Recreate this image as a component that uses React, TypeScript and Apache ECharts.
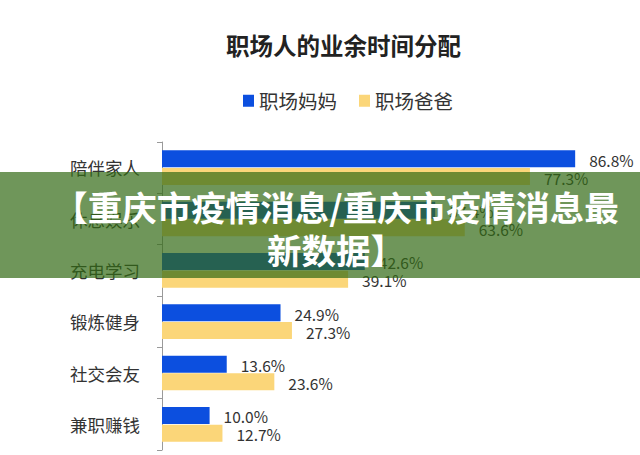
import React, { useEffect, useRef } from 'react';
import * as echarts from 'echarts';

const categories = ['陪伴家人', '休息娱乐', '充电学习', '锻炼健身', '社交会友', '兼职赚钱'];
const seriesNames = ['职场妈妈', '职场爸爸'];
const momValues = [86.8, 57.4, 42.6, 24.9, 13.6, 10.0];
const dadValues = [77.3, 63.6, 39.1, 27.3, 23.6, 12.7];
const bannerLines = ['【重庆市疫情消息/重庆市疫情消息最', '新数据】'];

const FONT = '"Noto Sans CJK SC", "Noto Sans", sans-serif';

const App: React.FC = () => {
  const chartRef = useRef<HTMLDivElement>(null);

  useEffect(() => {
    if (!chartRef.current) return;
    const chart = echarts.init(chartRef.current, undefined, { renderer: 'svg' });
    const label = {
      show: true,
      position: 'right',
      distance: 14,
      offset: [0, 1],
      formatter: (p: any) => `${Number(p.value).toFixed(1)}%`,
      color: '#333',
      fontSize: 15.5,
      fontFamily: FONT,
    };
    const bannerText = (text: string, y: number) => ({
      type: 'text',
      z: 101,
      x: 336,
      y,
      style: {
        text,
        fill: '#ffffff',
        fontSize: 34.5,
        fontWeight: 'bold',
        fontFamily: FONT,
        align: 'center',
        verticalAlign: 'middle',
      },
    });
    chart.setOption({
      animation: false,
      backgroundColor: '#ffffff',
      textStyle: { fontFamily: FONT },
      title: {
        text: '职场人的业余时间分配',
        left: 221,
        top: 28,
        textStyle: { fontSize: 23.5, fontWeight: 'bold', color: '#222', fontFamily: FONT },
      },
      legend: {
        data: seriesNames,
        left: 238,
        top: 86,
        icon: 'rect',
        itemWidth: 11,
        itemHeight: 12,
        itemGap: 22,
        textStyle: { fontSize: 19.5, color: '#333', fontFamily: FONT },
      },
      grid: { left: 162, top: 142, bottom: 5, right: 2, containLabel: false },
      xAxis: {
        type: 'value',
        min: 0,
        max: 100,
        show: false,
        splitLine: { show: false },
      },
      yAxis: {
        type: 'category',
        data: categories,
        inverse: true,
        axisLine: { lineStyle: { color: '#9a9a9a' } },
        axisTick: { show: true, length: 5, lineStyle: { color: '#9a9a9a' } },
        axisLabel: { margin: 22, fontSize: 17.5, color: '#333', fontFamily: FONT },
      },
      series: [
        {
          name: seriesNames[0],
          type: 'bar',
          data: momValues,
          barWidth: 17,
          barGap: '4%',
          itemStyle: { color: '#0c4fdf' },
          label,
        },
        {
          name: seriesNames[1],
          type: 'bar',
          data: dadValues,
          barWidth: 17,
          itemStyle: { color: '#fbd679' },
          label,
        },
      ],
      graphic: [
        {
          type: 'rect',
          z: 100,
          shape: { x: 0, y: 172, width: 640, height: 106 },
          style: { fill: 'rgba(50,105,20,0.7)' },
        },
        bannerText(bannerLines[0], 206),
        bannerText(bannerLines[1], 249),
      ],
    });
    return () => chart.dispose();
  }, []);

  return (
    <div style={{ position: 'fixed', left: 0, top: 0, width: 640, height: 455 }}>
      <div ref={chartRef} style={{ width: 640, height: 455 }} />
    </div>
  );
};

export default App;
